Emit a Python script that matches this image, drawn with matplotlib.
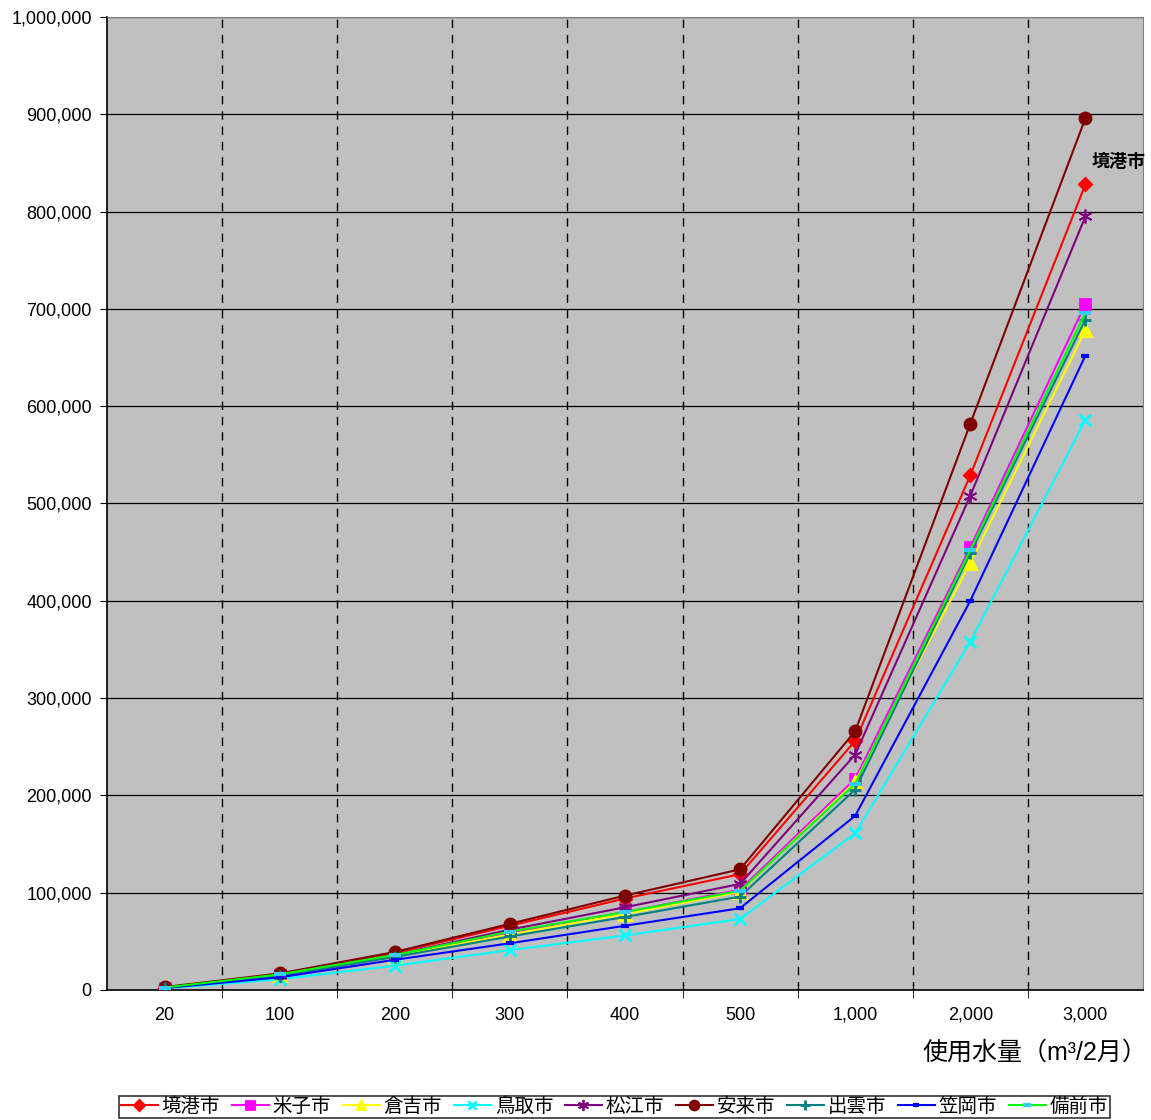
import matplotlib
matplotlib.use("Agg")
import matplotlib.pyplot as plt
from matplotlib.ticker import FuncFormatter, FixedLocator

plt.rcParams['font.family'] = ['Liberation Sans', 'Noto Sans CJK JP']

# 使用水量 categories (m3 / 2 months)
usage = ['20', '100', '200', '300', '400', '500', '1,000', '2,000', '3,000']

# charges per city (yen)
sakaiminato = [2500, 16000, 38000, 66000, 94000, 119000, 256000, 529000, 828000]
yonago      = [2500, 15000, 35000, 59000, 80000, 103000, 217000, 455000, 705000]
kurayoshi   = [2500, 15000, 35000, 57000, 78000, 101000, 214000, 439000, 678000]
tottori     = [1500, 11000, 25000, 41000, 56000, 73000, 161000, 358000, 586000]
matsue      = [2500, 15500, 36000, 62000, 85000, 109000, 242000, 508000, 795000]
yasugi      = [3000, 17000, 39000, 68000, 97000, 124000, 266000, 582000, 896000]
izumo       = [2000, 14500, 34000, 55000, 75000, 96000, 206000, 449000, 689000]
kasaoka     = [2000, 13000, 31000, 48000, 66000, 84000, 179000, 400000, 652000]
bizen       = [2500, 16000, 36000, 60000, 80000, 102000, 212000, 452000, 696000]

# name, values, line colour, marker, marker colour, marker size, marker edge width
series = [
    ('境港市', sakaiminato, '#FF0000', 'D', '#FF0000', 6, 2),
    ('米子市', yonago, '#FF00FF', 's', '#FF00FF', 7, 2),
    ('倉吉市', kurayoshi, '#FFFF00', '^', '#FFFF00', 8, 2),
    ('鳥取市', tottori, '#00FFFF', 'x', '#00FFFF', 8, 2),
    ('松江市', matsue, '#800080', (6, 2, 0), '#800080', 10, 1.3),
    ('安来市', yasugi, '#800000', 'o', '#800000', 8, 2),
    ('出雲市', izumo, '#008080', '+', '#008080', 9, 2),
    ('笠岡市', kasaoka, '#0000FF', '_', '#0000FF', 6, 3),
    ('備前市', bizen, '#00FF00', '_', '#33CCFF', 8, 3),
]

fig = plt.figure(figsize=(11.51, 11.2), dpi=100)
ax = fig.add_axes([0.093, 0.1161, 0.9, 0.8687])
ax.set_facecolor('#C0C0C0')

xs = list(range(len(usage)))
for name, vals, col, mk, mcol, ms, mew in series:
    ax.plot(xs, vals, color=col, lw=1.5, marker=mk, markersize=ms,
            markerfacecolor=mcol, markeredgecolor=mcol, markeredgewidth=mew,
            label=name, zorder=3)

ax.set_xlim(-0.5, len(usage) - 0.5)
ax.set_ylim(0, 1000000)
ax.set_xticks(xs)
ax.set_xticklabels(usage, fontsize=13)
ax.tick_params(axis='x', which='major', length=0, pad=12)
ax.xaxis.set_minor_locator(FixedLocator([i + 0.5 for i in range(len(usage) - 1)]))
ax.tick_params(axis='x', which='minor', length=6, direction='out')
ax.set_yticks(range(0, 1000001, 100000))
ax.yaxis.set_major_formatter(FuncFormatter(lambda v, p: f'{int(v):,}'))
ax.tick_params(axis='y', labelsize=13, length=5, direction='out', pad=6)

for y in range(100000, 1000001, 100000):
    ax.axhline(y, color='black', lw=0.9, zorder=1)
for i in range(len(usage) - 1):
    ax.axvline(i + 0.5, color='black', lw=1, ls=(0, (6, 5)), zorder=1)

for s in ['left', 'bottom']:
    ax.spines[s].set_color('black')
    ax.spines[s].set_linewidth(1.2)
for s in ['top', 'right']:
    ax.spines[s].set_color('#808080')

ax.text(8.05, 850000, '境港市', fontsize=13, fontweight='bold', ha='left', va='center')

fig.text(0.997, 0.06, '使用水量（m³/2月）', fontsize=18, ha='right', va='center')

leg = fig.legend(loc='lower center', bbox_to_anchor=(0.534, 0.0), ncol=9,
                 fontsize=14, frameon=True, fancybox=False, edgecolor='black',
                 handlelength=1.9, handletextpad=0.2, columnspacing=0.6,
                 borderpad=0.1, borderaxespad=0.1, markerscale=0.8)
leg.get_frame().set_linewidth(1.2)

fig.savefig('out.png', dpi=100)
